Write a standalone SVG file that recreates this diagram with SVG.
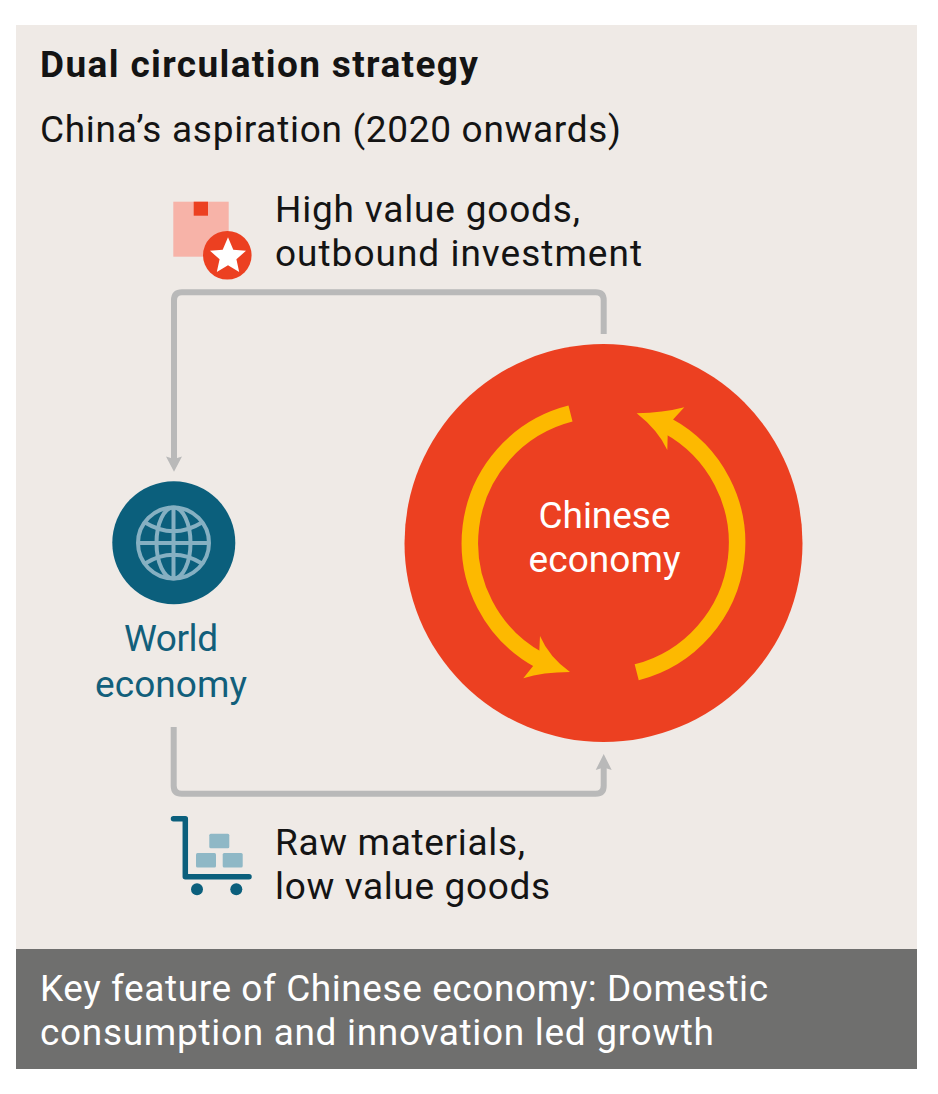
<svg xmlns="http://www.w3.org/2000/svg" width="938" height="1094" viewBox="0 0 938 1094">
<style>
text{font-family:Roboto,"Noto Sans","Liberation Sans",sans-serif;font-size:37px;fill:#141414}
.t{font-weight:700;font-size:37px}
.w{fill:#fff}
.teal{fill:#125f7b}
.m{text-anchor:middle}
.c{fill:none;stroke:#b9b9b9;stroke-width:6}
.hd{fill:#b9b9b9}
.arc{fill:none;stroke:#fdb900;stroke-width:16.5}
.y{fill:#fdb900}
.g{fill:none;stroke:#86b0c2;stroke-width:4}
.b{fill:#8fb8c6}
</style>
<rect width="938" height="1094" fill="#fff"/>
<rect id="panel" x="16" y="25" width="901" height="924" fill="#efeae6"/>
<g id="header">
<text class="t" x="40" y="77" textLength="438">Dual circulation strategy</text>
<text x="40" y="142" textLength="581">China’s aspiration (2020 onwards)</text>
</g>
<g id="connectors">
<path class="c" d="M603.7 334V300.300Q603.700 292.300 595.700 292.300H182Q174 292.300 174 300.300V460"/>
<path class="hd" d="M174 471.700L166 456.500L174 459L182 456.500Z"/>
<path class="c" d="M173.700 727V785.700Q173.700 793.700 181.700 793.700H595.700Q603.700 793.700 603.700 785.700V766"/>
<path class="hd" d="M603.700 754L611.700 770L603.700 767.500L595.700 770Z"/>
</g>
<g id="high-value">
<rect x="173.300" y="201.700" width="55.400" height="55" fill="#f7b3a8"/>
<rect x="193.700" y="201.700" width="14.300" height="14" fill="#ec4021"/>
<circle cx="227.300" cy="255.300" r="24.300" fill="#ec4021"/>
<path fill="#fff" d="M228 237.300L233.300 249.700L246 250.800L236.400 259.300L239.200 272L228 265.200L216.800 272L219.600 259.300L210 250.800L222.700 249.700Z"/>
<text x="275" y="222" textLength="305">High value goods,</text>
<text x="275" y="266" textLength="367">outbound investment</text>
</g>
<g id="world-economy">
<circle cx="173.800" cy="542.800" r="61.500" fill="#0b5f7c"/>
<circle class="g" cx="173.500" cy="543" r="35.500"/>
<ellipse class="g" cx="173.500" cy="543" rx="17" ry="35.500"/>
<path class="g" d="M173.500 507.500V578.500M138 543H209M145 522.500Q173.500 540 202 522.500M145 563.500Q173.500 546 202 563.500"/>
<text class="teal m" x="171" y="651" textLength="94">World</text>
<text class="teal m" x="171" y="697" textLength="152">economy</text>
</g>
<g id="chinese-economy">
<circle cx="603.500" cy="543" r="199" fill="#ec4021"/>
<path class="arc" d="M570.500 413.600A133.500 133.500 0 0 0 540 660.500"/>
<path class="y" d="M570 672Q543 672 523.300 678.300L533.300 665.700L539.300 650.700L540 636Q549 657 570 672Z"/>
<path class="arc" d="M636.700 672.300A133.500 133.500 0 0 0 667 425.500"/>
<path class="y" d="M636.700 413.300Q663 413 684.300 407.300L673.300 419.300L667.700 435L667.300 450Q658 430 636.700 413.300Z"/>
<text class="w m" x="604.500" y="528" textLength="132">Chinese</text>
<text class="w m" x="604.500" y="572" textLength="152">economy</text>
</g>
<g id="raw-materials">
<path fill="none" stroke="#0b5f7c" stroke-width="5.500" stroke-linecap="round" stroke-linejoin="round" d="M173.500 818.700H185.300V876.700H249"/>
<circle cx="197" cy="889.300" r="6" fill="#0b5f7c"/>
<circle cx="236.300" cy="889.300" r="6" fill="#0b5f7c"/>
<rect class="b" x="209.300" y="833.700" width="20" height="14.600" rx="1.500"/>
<rect class="b" x="196" y="853" width="20" height="14.400" rx="1.500"/>
<rect class="b" x="222.700" y="853" width="20" height="14.400" rx="1.500"/>
<text x="275" y="855" textLength="250">Raw materials,</text>
<text x="275" y="899" textLength="275">low value goods</text>
</g>
<g id="footer">
<rect x="16" y="949" width="901" height="120" fill="#6f6f6e"/>
<text class="w" x="40" y="1001" textLength="728">Key feature of Chinese economy: Domestic</text>
<text class="w" x="40" y="1045" textLength="674">consumption and innovation led growth</text>
</g>
</svg>
